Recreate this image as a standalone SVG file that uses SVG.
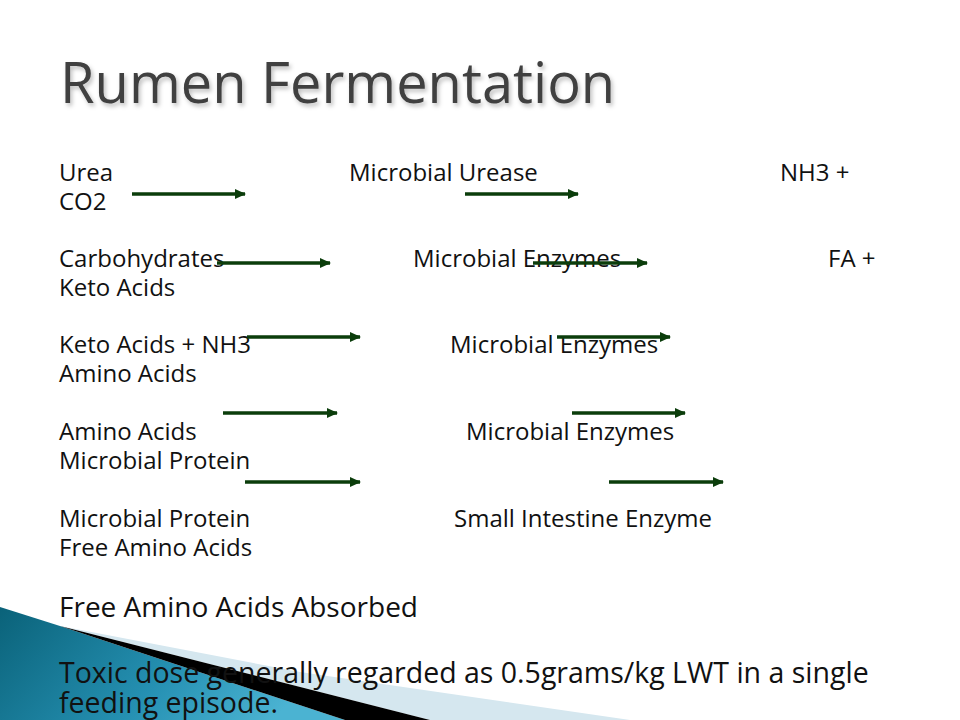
<svg xmlns="http://www.w3.org/2000/svg" width="960" height="720" viewBox="0 0 960 720">
  <style>
    .t { font-family: "Open Sans", "DejaVu Sans", sans-serif; font-size: 24px; fill: #111; }
    .mid { font-family: "Open Sans", "DejaVu Sans", sans-serif; font-size: 28px; fill: #111; }
    .big { font-family: "Open Sans", "DejaVu Sans", sans-serif; font-size: 28.5px; fill: #111; }
    .title { font-family: "Open Sans", "DejaVu Sans", sans-serif; font-size: 56px; fill: #404040; }
    .arrow { stroke: #0b3d0b; stroke-width: 3.5; fill: none; }
  </style>
  <defs>
    <marker id="ah" markerUnits="userSpaceOnUse" markerWidth="12" markerHeight="10" refX="10" refY="5" orient="auto">
      <path d="M0,0 L11,5 L0,10 Z" fill="#0b3d0b"/>
    </marker>
    <linearGradient id="teal" x1="0" y1="0" x2="1" y2="0.3">
      <stop offset="0" stop-color="#0a6279"/>
      <stop offset="0.6" stop-color="#2590b2"/>
      <stop offset="1" stop-color="#4bb3d2"/>
    </linearGradient>
    <filter id="sh" x="-5%" y="-20%" width="110%" height="140%">
      <feDropShadow dx="2" dy="3" stdDeviation="2" flood-color="#000" flood-opacity="0.25"/>
    </filter>
  </defs>
  <rect width="960" height="720" fill="#fff"/>

  <g id="decoration">
    <polygon points="0,607 60,626 345,720 0,720" fill="url(#teal)"/>
    <polygon points="60,626 300,672 630,720 430,720" fill="#d5e7ef"/>
    <polygon points="60,626 430,720 345,720" fill="#000"/>
  </g>

  <g id="title">
    <text class="title" x="60" y="103" filter="url(#sh)">Rumen Fermentation</text>
  </g>

  <g id="row1">
    <text class="t" x="59" y="181">Urea</text>
    <text class="t" x="349" y="181">Microbial Urease</text>
    <text class="t" x="780" y="181">NH3 +</text>
    <text class="t" x="59" y="210">CO2</text>
  </g>
  <g id="row2">
    <text class="t" x="59" y="267">Carbohydrates</text>
    <text class="t" x="413" y="267">Microbial Enzymes</text>
    <text class="t" x="828" y="267">FA +</text>
    <text class="t" x="59" y="296">Keto Acids</text>
  </g>
  <g id="row3">
    <text class="t" x="59" y="353">Keto Acids + NH3</text>
    <text class="t" x="450" y="353">Microbial Enzymes</text>
    <text class="t" x="59" y="382">Amino Acids</text>
  </g>
  <g id="row4">
    <text class="t" x="59" y="440">Amino Acids</text>
    <text class="t" x="466" y="440">Microbial Enzymes</text>
    <text class="t" x="59" y="469">Microbial Protein</text>
  </g>
  <g id="row5">
    <text class="t" x="59" y="527">Microbial Protein</text>
    <text class="t" x="454" y="527">Small Intestine Enzyme</text>
    <text class="t" x="59" y="556">Free Amino Acids</text>
  </g>
  <g id="notes">
    <text class="mid" x="59" y="617">Free Amino Acids Absorbed</text>
    <text class="big" x="59" y="683">Toxic dose generally regarded as 0.5grams/kg LWT in a single</text>
    <text class="big" x="59" y="713">feeding episode.</text>
  </g>

  <g id="connectors">
    <line class="arrow" x1="132" y1="194" x2="245" y2="194" marker-end="url(#ah)"/>
    <line class="arrow" x1="465" y1="194" x2="578" y2="194" marker-end="url(#ah)"/>
    <line class="arrow" x1="217" y1="263" x2="330" y2="263" marker-end="url(#ah)"/>
    <line class="arrow" x1="533" y1="263" x2="647" y2="263" marker-end="url(#ah)"/>
    <line class="arrow" x1="247" y1="337" x2="360" y2="337" marker-end="url(#ah)"/>
    <line class="arrow" x1="557" y1="337" x2="670" y2="337" marker-end="url(#ah)"/>
    <line class="arrow" x1="223" y1="413" x2="337" y2="413" marker-end="url(#ah)"/>
    <line class="arrow" x1="572" y1="413" x2="685" y2="413" marker-end="url(#ah)"/>
    <line class="arrow" x1="245" y1="482" x2="360" y2="482" marker-end="url(#ah)"/>
    <line class="arrow" x1="609" y1="482" x2="723" y2="482" marker-end="url(#ah)"/>
  </g>
</svg>
